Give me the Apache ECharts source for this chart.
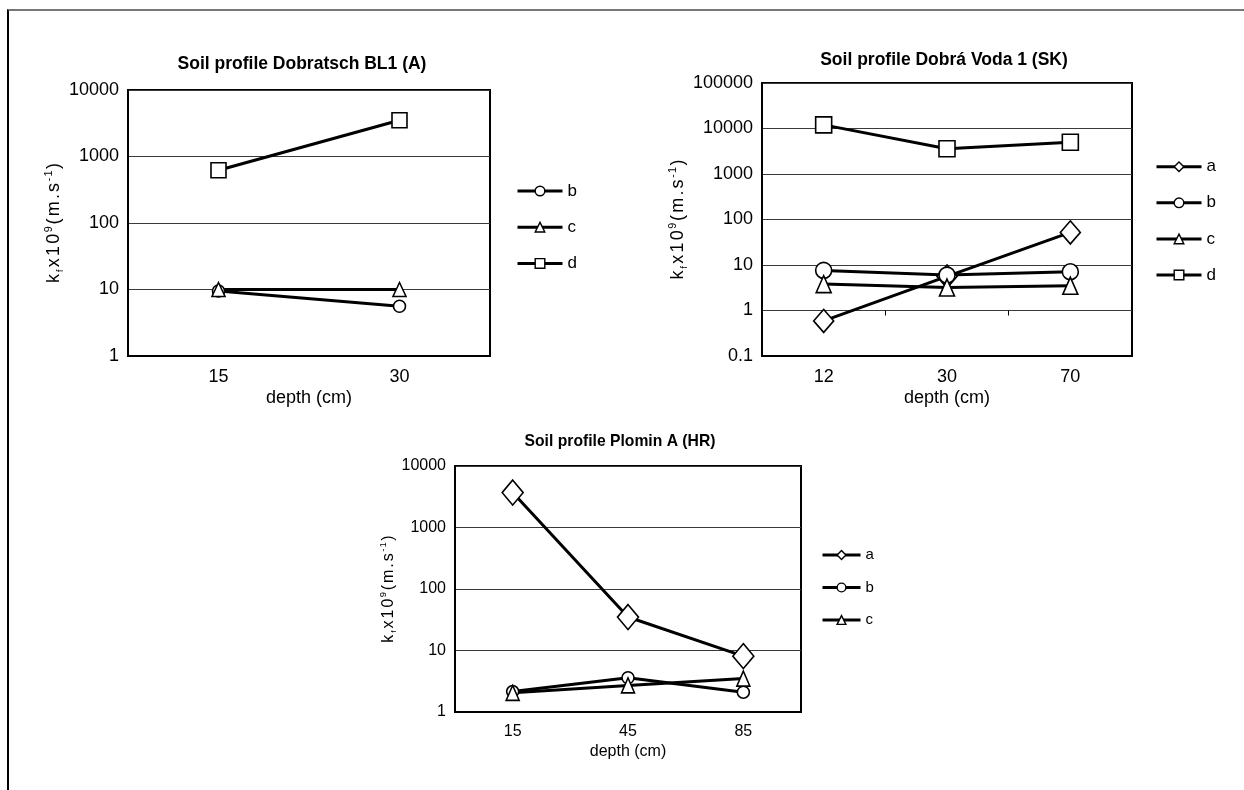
<!DOCTYPE html>
<html><head><meta charset="utf-8">
<script src="https://cdn.jsdelivr.net/npm/echarts@6/dist/echarts.min.js"></script>
<style>
html,body{margin:0;padding:0;background:#fff;}
#chart{width:1244px;height:790px;position:absolute;left:0;top:0;}
#frame{position:absolute;left:7px;top:9px;width:1237px;height:781px;border-top:2px solid #777;border-left:2px solid #000;box-sizing:border-box;pointer-events:none;}
</style></head><body>
<div id="chart"></div><div id="frame"></div>
<script>
const FONT = '"Liberation Sans", Arial, Helvetica, sans-serif';

// Chart 1: Soil profile Dobratsch BL1 (A)
const title1 = 'Soil profile Dobratsch BL1 (A)';
const depth1 = ['15', '30'];
const b1 = [9.5, 5.6];
const c1 = [10, 10];
const d1 = [620, 3500];
const yTicks1 = [1, 10, 100, 1000, 10000];

// Chart 2: Soil profile Dobrá Voda 1 (SK)
const title2 = 'Soil profile Dobrá Voda 1 (SK)';
const depth2 = ['12', '30', '70'];
const a2 = [0.59, 5.6, 52];
const b2 = [7.6, 6.0, 7.1];
const c2 = [3.8, 3.2, 3.5];
const d2 = [12000, 3600, 5000];
const yTicks2 = [0.1, 1, 10, 100, 1000, 10000, 100000];

// Chart 3: Soil profile Plomin A (HR)
const title3 = 'Soil profile Plomin A (HR)';
const depth3 = ['15', '45', '85'];
const a3 = [3700, 35, 8.1];
const b3 = [2.15, 3.6, 2.1];
const c3 = [2.05, 2.7, 3.5];
const yTicks3 = [1, 10, 100, 1000, 10000];

const xName = 'depth (cm)';
const yNameText = '{n|k}{sub|f}{n|x}{n|1}{n|0}{sup|9}{n|(}{n|m}{n|.}{n|s}{sup|-}{sup|1}{n|)}';

const symbolFor = { a: 'diamond', b: 'circle', c: 'triangle', d: 'rect' };

const grids = [
  { left: 128, top: 90, width: 362, height: 266 },
  { left: 762, top: 83, width: 370, height: 273 },
  { left: 455, top: 466, width: 346, height: 246 }
];
const fonts = [18, 18, 16];

function richFor(fs, pad) {
  return {
    n: { fontSize: fs, fontFamily: FONT, color: '#000', padding: [0, pad], lineHeight: Math.round(fs * 1.2) },
    sub: { fontSize: fs * 0.5, fontFamily: FONT, color: '#000', verticalAlign: 'bottom', lineHeight: fs * 0.75, padding: [0, pad] },
    sup: { fontSize: fs * 0.6, fontFamily: FONT, color: '#000', verticalAlign: 'top', lineHeight: fs * 0.7, padding: [0, pad * 0.5] }
  };
}

function xAxisFor(i, cats, fs, gap) {
  return {
    type: 'category', gridIndex: i, data: cats, boundaryGap: true,
    axisLine: { show: true, lineStyle: { color: '#000', width: 2 } },
    axisTick: { show: false },
    splitLine: { show: false },
    axisLabel: { fontSize: fs, color: '#000', fontFamily: FONT, margin: 12 },
    name: xName, nameLocation: 'middle', nameGap: gap,
    nameTextStyle: { fontSize: fs, color: '#000', fontFamily: FONT }
  };
}

function yAxisFor(i, ticks, fs, gap, pad) {
  return {
    type: 'log', logBase: 10, gridIndex: i,
    min: ticks[0], max: ticks[ticks.length - 1],
    axisLine: { show: true, lineStyle: { color: '#000', width: 2 } },
    axisTick: { show: false },
    splitLine: { show: true, lineStyle: { color: '#3a3a3a', width: 1.2 } },
    axisLabel: { fontSize: fs, color: '#000', fontFamily: FONT, margin: 9,
      formatter: v => String(+(+v).toPrecision(6)) },
    name: yNameText, nameLocation: 'middle', nameRotate: 90, nameGap: gap,
    nameTextStyle: { rich: richFor(fs, pad) }
  };
}

function line(name, data, xi, yi, size) {
  return {
    type: 'line', name: name, data: data, xAxisIndex: xi, yAxisIndex: yi,
    symbol: symbolFor[name], symbolSize: size, showSymbol: true,
    lineStyle: { color: '#000', width: 3 },
    itemStyle: { color: '#fff', borderColor: '#000', borderWidth: 1.6 },
    emphasis: { disabled: true }, animation: false, z: 3
  };
}

// offset of the value-1 crossing for chart 2 (category axis crosses at 1)
const g2 = grids[1];
const span2 = Math.log10(yTicks2[yTicks2.length - 1]) - Math.log10(yTicks2[0]);
const cross2 = g2.height * (Math.log10(1) - Math.log10(yTicks2[0])) / span2;

const legendText = fs => ({ fontSize: fs, color: '#000', fontFamily: FONT });
const legendBase = { orient: 'vertical', padding: 0, selectedMode: false,
  lineStyle: { width: 3, color: '#000' }, itemStyle: { color: '#fff', borderColor: '#000', borderWidth: 1.4 } };

const option = {
  backgroundColor: '#fff',
  animation: false,
  title: [
    { text: title1, left: 302, top: 55, textAlign: 'center', padding: 0,
      textStyle: { fontSize: 17.5, fontWeight: 'bold', color: '#000', fontFamily: FONT } },
    { text: title2, left: 944, top: 51, textAlign: 'center', padding: 0,
      textStyle: { fontSize: 17.5, fontWeight: 'bold', color: '#000', fontFamily: FONT } },
    { text: title3, left: 620, top: 434, textAlign: 'center', padding: 0,
      textStyle: { fontSize: 15.7, fontWeight: 'bold', color: '#000', fontFamily: FONT } }
  ],
  grid: grids.map(g => Object.assign({ show: true, borderColor: '#000', borderWidth: 2, backgroundColor: 'transparent', containLabel: false }, g)),
  legend: [
    Object.assign({ data: ['b', 'c', 'd'], left: 516, top: 182.5, itemWidth: 45, itemHeight: 12, itemGap: 19.2,
      textStyle: legendText(17) }, legendBase),
    Object.assign({ data: ['a', 'b', 'c', 'd'], left: 1155, top: 158.2, itemWidth: 45, itemHeight: 12, itemGap: 19.1,
      textStyle: legendText(17) }, legendBase),
    Object.assign({ data: ['a', 'b', 'c'], left: 821, top: 547.5, itemWidth: 38, itemHeight: 11, itemGap: 17.5,
      textStyle: legendText(15) }, legendBase)
  ],
  xAxis: [
    xAxisFor(0, depth1, fonts[0], 33),
    xAxisFor(1, depth2, fonts[1], 33),
    xAxisFor(2, depth3, fonts[2], 32),
    {
      type: 'category', gridIndex: 1, data: depth2, boundaryGap: true, position: 'bottom', offset: -cross2,
      axisLine: { show: false }, axisLabel: { show: false }, splitLine: { show: false },
      axisTick: { show: true, length: 5, inside: false, lineStyle: { color: '#000', width: 1 } }
    }
  ],
  yAxis: [
    yAxisFor(0, yTicks1, fonts[0], 44, 1.1),
    yAxisFor(1, yTicks2, fonts[1], 57, 1.1),
    yAxisFor(2, yTicks3, fonts[2], 43, 1.0)
  ],
  series: [
    line('b', b1, 0, 0, [12, 12]),
    line('c', c1, 0, 0, [13, 14]),
    line('d', d1, 0, 0, [15, 15]),

    line('a', a2, 1, 1, [20, 23]),
    line('b', b2, 1, 1, [16, 16]),
    line('c', c2, 1, 1, [15, 17]),
    line('d', d2, 1, 1, [16, 16]),

    line('a', a3, 2, 2, [21, 25]),
    line('b', b3, 2, 2, [12, 12]),
    line('c', c3, 2, 2, [13, 15])
  ]
};

const chart = echarts.init(document.getElementById('chart'), null, { renderer: 'canvas' });
chart.setOption(option);
</script>
</body></html>
